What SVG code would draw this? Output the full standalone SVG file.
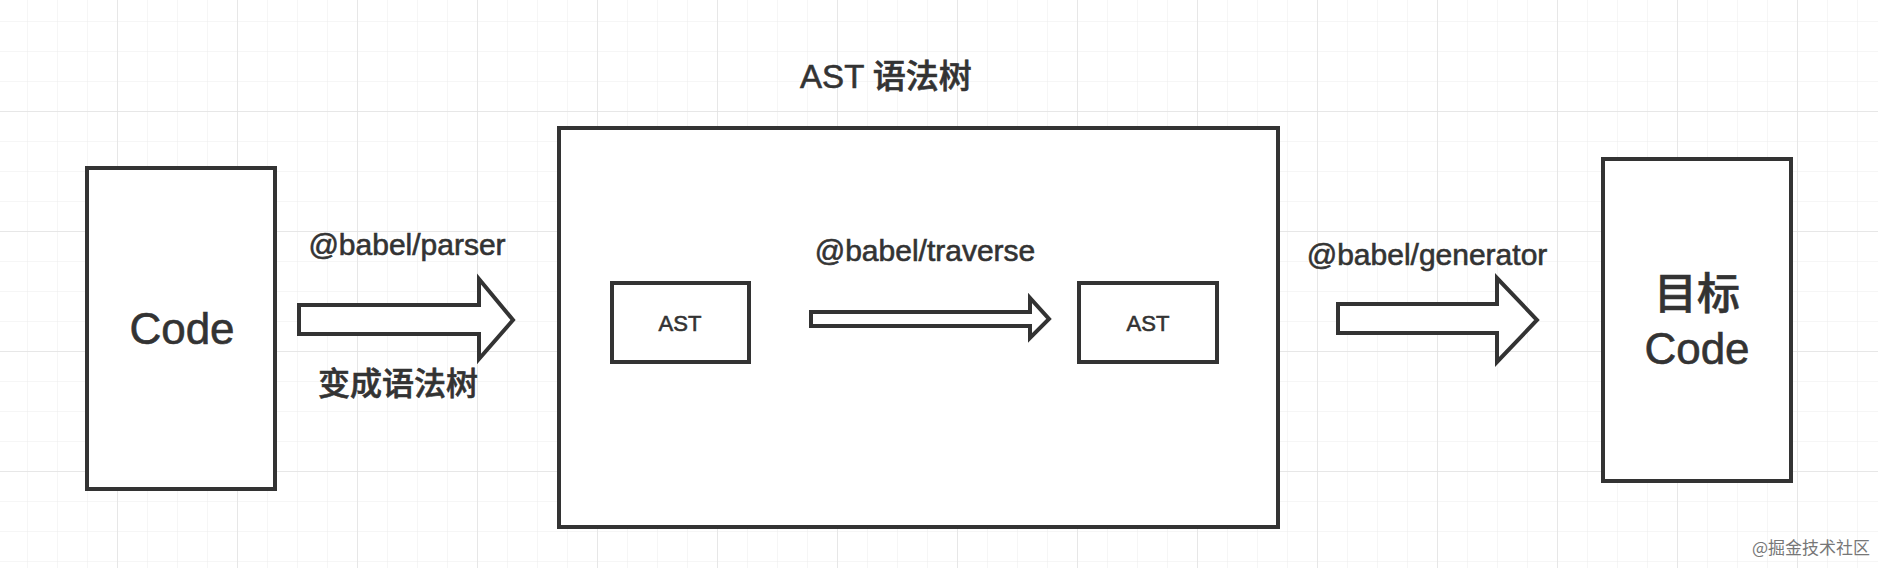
<svg xmlns="http://www.w3.org/2000/svg" width="1878" height="568" viewBox="0 0 1878 568">
<defs>
<pattern id="g" width="30" height="30" patternUnits="userSpaceOnUse" x="-2" y="-8"><path d="M30 0V30M0 30H30" fill="none" stroke="#ececec" stroke-width="1"/></pattern>
<pattern id="G" width="120" height="120" patternUnits="userSpaceOnUse" x="-2" y="-8"><path d="M120 0V120M0 120H120" fill="none" stroke="#e2e2e2" stroke-width="1.5"/></pattern>
</defs>
<style>
.b{fill:#fff;stroke:#333;stroke-width:4}
.t{font-family:"Liberation Sans","Noto Sans CJK SC",sans-serif;fill:#333;stroke:#333;stroke-width:0.6;text-anchor:middle;font-weight:500}
</style>
<rect width="1878" height="568" fill="#fff"/>
<rect width="1878" height="568" fill="url(#g)"/>
<rect width="1878" height="568" fill="url(#G)"/>
<g id="code"><rect class="b" x="87" y="168" width="188" height="321"/><text class="t" x="182" y="344" font-size="44">Code</text></g>
<g id="ast-tree"><rect class="b" x="559" y="128" width="719" height="399"/><text class="t" x="886" y="88" font-size="33">AST 语法树</text></g>
<g id="ast1"><rect class="b" x="612" y="283" width="137" height="79" stroke-width="3"/><text class="t" x="680" y="331" font-size="22" stroke-width="0">AST</text></g>
<g id="ast2"><rect class="b" x="1079" y="283" width="138" height="79" stroke-width="3"/><text class="t" x="1148" y="331" font-size="22" stroke-width="0">AST</text></g>
<g id="target"><rect class="b" x="1603" y="159" width="188" height="322"/><text class="t" x="1697" y="309" font-size="43">目标</text><text class="t" x="1697" y="364" font-size="44">Code</text></g>
<g id="connectors">
<path class="b" d="M299 305H479V279L513 320L479 359V334H299Z"/>
<text class="t" x="407" y="255" font-size="30">@babel/parser</text>
<text class="t" x="398" y="395" font-size="32">变成语法树</text>
<path class="b" d="M811 312H1030V298L1049 319L1030 338V326H811Z" stroke-width="3"/>
<text class="t" x="925" y="261" font-size="30">@babel/traverse</text>
<path class="b" d="M1338 304H1497V278L1537 320L1497 362V333H1338Z"/>
<text class="t" x="1427" y="265" font-size="30">@babel/generator</text>
</g>
<text x="1870" y="554" font-size="17" fill="#777" text-anchor="end" font-family="'Noto Sans CJK SC',sans-serif">@掘金技术社区</text>
</svg>
